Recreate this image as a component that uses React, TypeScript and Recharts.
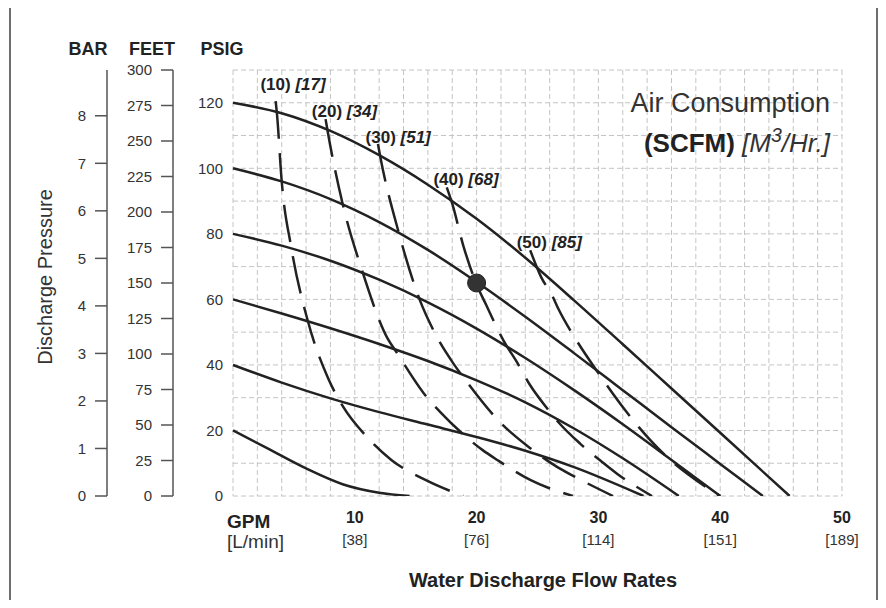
import React from 'react'
import {
  ComposedChart,
  Line,
  XAxis,
  YAxis,
  CartesianGrid,
  ReferenceDot,
} from 'recharts'

// flow in GPM, pressure in PSIG
const head120 = [[0, 120], [4, 116.8], [8, 111.4], [12, 104], [16, 95], [20, 84.6], [24, 72.7], [28, 59.7], [32, 46.3], [36, 32.8], [40, 19.3], [45.7, 0]]
const head100 = [[0, 100], [4, 96], [8, 90.6], [12, 83.6], [16, 75.1], [20, 65.3], [24, 54.7], [28, 43.6], [32, 32.3], [36, 21], [40, 9.8], [43.5, 0]]
const head80 = [[0, 80], [4, 76.4], [8, 71.8], [12, 66], [16, 59.1], [20, 51.1], [24, 42.1], [28, 32.3], [32, 21.9], [36, 11], [40, 0]]
const head60 = [[0, 60], [4, 55.7], [8, 51.2], [12, 46.4], [16, 41.2], [20, 35.3], [24, 28.6], [28, 20.6], [32, 11.5], [36.6, 0]]
const head40 = [[0, 40], [4, 34.6], [8, 29.8], [12, 25.6], [16, 21.8], [20, 18], [24, 13.8], [28, 8.8], [33.7, 0]]
const head20 = [[0, 20], [3, 14.2], [6, 8.4], [9, 3.6], [12, 1], [14.5, 0]]

// air consumption lines (SCFM)
const air10 = [[3.5, 120.5], [3.6, 117], [4.0, 96], [4.8, 75.5], [6.1, 54], [7.8, 36], [9.0, 27.5], [11, 18], [13, 11], [15.8, 4.9], [18.9, 0]]
const air20 = [[7.6, 115], [7.8, 110.7], [9, 89.2], [10.6, 68.8], [12.7, 48], [13.4, 44], [15.9, 30.2], [17, 25.7], [20.5, 14], [21.7, 11], [24.4, 4.9], [27.9, 0]]
const air30 = [[11.9, 107.4], [12.1, 103.4], [13.6, 80.5], [15.35, 59.7], [16.45, 50.6], [18.1, 40.4], [19, 35.8], [21.9, 22.6], [24.4, 14.6], [26.6, 8.9], [28, 6], [31.2, 0]]
const air40 = [[17.55, 94.2], [18, 89.2], [18.9, 76.5], [20, 64.6], [20.8, 58.2], [22.2, 47.5], [23.3, 40.9], [24.4, 33.8], [25.8, 26.7], [26.7, 22.6], [28.5, 16], [30.3, 10.4], [31.5, 6.9], [34.4, 0]]
const air50 = [[24.4, 75], [25.3, 66.8], [26.2, 61.2], [26.7, 57.2], [28.2, 47.5], [30, 37.5], [32.3, 25.7], [33.3, 21.1], [35.9, 11], [38, 4.9], [40, 0]]

const scfmValues = [10, 20, 30, 40, 50]
const m3hrValues = [17, 34, 51, 68, 85]
const tagAnchors = [[4.93, 125.8], [9.15, 117.6], [13.56, 109.7], [19.13, 96.8], [25.97, 77.5]]

const opPoint = [20, 65]

const gpmTicks = [0, 2, 4, 6, 8, 10, 12, 14, 16, 18, 20, 22, 24, 26, 28, 30, 32, 34, 36, 38, 40, 42, 44, 46, 48, 50]
const gpmMajor = [10, 20, 30, 40, 50]
const lpmLabels = [38, 76, 114, 151, 189]
const psiTicks = [0, 10, 20, 30, 40, 50, 60, 70, 80, 90, 100, 110, 120, 130]
const feetTicks = [0, 25, 50, 75, 100, 125, 150, 175, 200, 225, 250, 275, 300]
const barTicks = [0, 1, 2, 3, 4, 5, 6, 7, 8]

const toPts = (arr: number[][]) => arr.map(([q, p]) => ({ q, p }))

const solidSeries = [head120, head100, head80, head60, head40, head20]
const dashedSeries = [air10, air20, air30, air40, air50]

const INK = '#222'
const AXIS = '#555'

const GpmTick = (props: any) => {
  const { x, y, payload } = props
  const i = gpmMajor.indexOf(payload.value)
  if (i < 0) return <g />
  return (
    <g>
      <text x={x} y={y + 27} textAnchor="middle" fontSize={16} fontWeight="bold" fill={INK}>
        {payload.value}
      </text>
      <text x={x} y={y + 49} textAnchor="middle" fontSize={15} fill="#333">
        [{lpmLabels[i]}]
      </text>
    </g>
  )
}

const overlay = (extra: React.CSSProperties): React.CSSProperties => ({
  position: 'absolute',
  lineHeight: 1,
  whiteSpace: 'nowrap',
  color: INK,
  ...extra,
})

export default function App() {
  return (
    <div
      style={{
        position: 'relative',
        width: 870,
        height: 592,
        fontFamily: '"Liberation Sans", Arial, sans-serif',
      }}
    >
      <div
        style={{
          position: 'absolute',
          left: 1,
          top: -2,
          width: 869,
          height: 601,
          border: '2px solid #6e6e6e',
          boxSizing: 'border-box',
        }}
      />

      <ComposedChart
        width={870}
        height={592}
        margin={{ top: 62, right: 36, bottom: 44, left: 39 }}
      >
        <CartesianGrid yAxisId="a_psi" stroke="#c4c4c4" strokeDasharray="5 3" />
        <XAxis
          dataKey="q"
          type="number"
          domain={[0, 50]}
          ticks={gpmTicks}
          interval={0}
          height={60}
          axisLine={false}
          tickLine={false}
          tickSize={0}
          tickMargin={0}
          tick={<GpmTick />}
        />
        <YAxis
          yAxisId="c_bar"
          type="number"
          domain={[0, 130 / 14.5038]}
          allowDataOverflow
          ticks={barTicks}
          interval={0}
          width={60}
          axisLine={{ stroke: AXIS, strokeWidth: 1.5 }}
          tickLine={{ stroke: AXIS, strokeWidth: 1.5 }}
          tickSize={12}
          tickMargin={9}
          tick={{ fontSize: 15, fill: '#333' }}
        />
        <YAxis
          yAxisId="b_feet"
          type="number"
          domain={[0, 300]}
          allowDataOverflow
          ticks={feetTicks}
          interval={0}
          width={66}
          axisLine={{ stroke: AXIS, strokeWidth: 1.5 }}
          tickLine={{ stroke: AXIS, strokeWidth: 1.5 }}
          tickSize={12}
          tickMargin={9}
          tick={{ fontSize: 15, fill: '#333' }}
        />
        <YAxis
          yAxisId="a_psi"
          type="number"
          domain={[0, 130]}
          allowDataOverflow
          ticks={psiTicks}
          interval={0}
          width={60}
          axisLine={false}
          tickLine={false}
          tickSize={0}
          tickMargin={10}
          tickFormatter={(v: number) => (v % 20 === 0 && v <= 120 ? String(v) : '')}
          tick={{ fontSize: 15, fill: '#333' }}
        />

        {solidSeries.map((s, i) => (
          <Line
            key={'h' + i}
            yAxisId="a_psi"
            data={toPts(s)}
            dataKey="p"
            type="monotone"
            stroke={INK}
            strokeWidth={2.5}
            dot={false}
            activeDot={false}
            isAnimationActive={false}
          />
        ))}
        {dashedSeries.map((s, i) => (
          <Line
            key={'a' + i}
            yAxisId="a_psi"
            data={toPts(s)}
            dataKey="p"
            type="monotone"
            stroke={INK}
            strokeWidth={2.5}
            strokeDasharray="38 14"
            dot={false}
            activeDot={false}
            isAnimationActive={false}
          />
        ))}

        {tagAnchors.map(([q, p], i) => (
          <ReferenceDot
            key={'t' + i}
            yAxisId="a_psi"
            x={q}
            y={p}
            r={0}
            ifOverflow="visible"
            shape={(pp: any) => (
              <text
                x={pp.cx}
                y={pp.cy}
                dy="0.36em"
                textAnchor="middle"
                fontSize={17}
                fontWeight="bold"
                fill={INK}
              >
                ({scfmValues[i]}) <tspan fontStyle="italic">[{m3hrValues[i]}]</tspan>
              </text>
            )}
          />
        ))}

        <ReferenceDot
          yAxisId="a_psi"
          x={opPoint[0]}
          y={opPoint[1]}
          r={9}
          fill="#333"
          stroke="#222"
          strokeWidth={1}
        />
      </ComposedChart>

      <div style={overlay({ left: 80, top: 41, transform: 'translate(-50%,-50%)', fontSize: 18, fontWeight: 'bold' })}>BAR</div>
      <div style={overlay({ left: 144, top: 41, transform: 'translate(-50%,-50%)', fontSize: 18, fontWeight: 'bold' })}>FEET</div>
      <div style={overlay({ left: 214, top: 41, transform: 'translate(-50%,-50%)', fontSize: 18, fontWeight: 'bold' })}>PSIG</div>
      <div
        style={overlay({
          left: 37,
          top: 269,
          transform: 'translate(-50%,-50%) rotate(-90deg)',
          fontSize: 20,
          color: '#333',
        })}
      >
        Discharge Pressure
      </div>
      <div style={overlay({ left: 219, top: 504, fontSize: 19, fontWeight: 'bold' })}>GPM</div>
      <div style={overlay({ left: 219, top: 524, fontSize: 19, color: '#333' })}>[L/min]</div>
      <div
        style={overlay({ left: 535, top: 572, transform: 'translate(-50%,-50%)', fontSize: 20, fontWeight: 'bold' })}
      >
        Water Discharge Flow Rates
      </div>
      <div style={overlay({ right: 48, top: 82, fontSize: 27, color: '#333' })}>Air Consumption</div>
      <div style={overlay({ right: 48, top: 122, fontSize: 26 })}>
        <b>(SCFM)</b>{' '}
        <i style={{ color: '#333' }}>
          [M<sup style={{ fontSize: '0.75em', verticalAlign: '0.5em', lineHeight: 0 }}>3</sup>/Hr.]
        </i>
      </div>
    </div>
  )
}
